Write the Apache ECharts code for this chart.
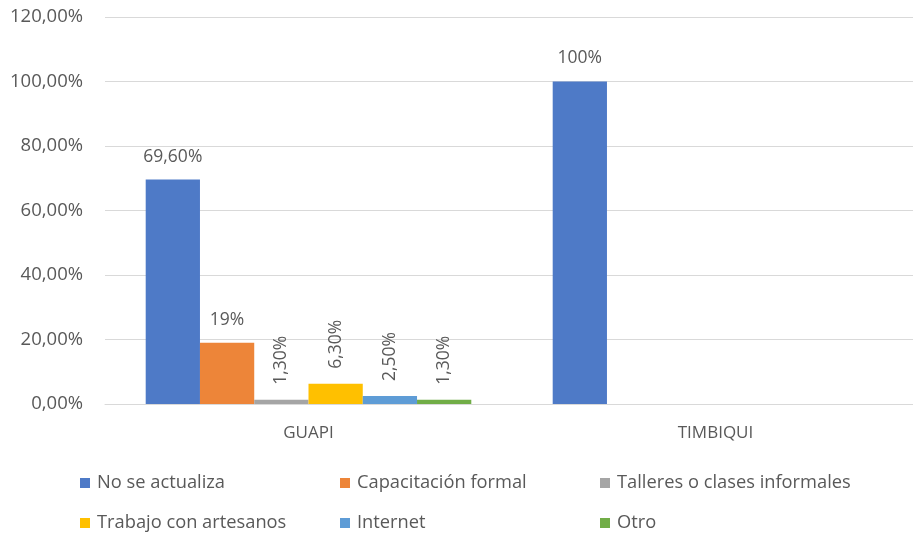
<!DOCTYPE html>
<html>
<head>
<meta charset="utf-8">
<script src="https://cdn.jsdelivr.net/npm/echarts@6/dist/echarts.min.js"></script>
<style>html,body{margin:0;padding:0;background:#fff;overflow:hidden;width:913px;height:534px}#c{width:930px;height:534px}</style>
</head>
<body>
<div id="c"></div>
<script>
const categories = ['GUAPI', 'TIMBIQUI'];
const seriesNames = ['No se actualiza', 'Capacitación formal', 'Talleres o clases informales', 'Trabajo con artesanos', 'Internet', 'Otro'];
const noSeActualiza = [69.6, 100];
const capacitacionFormal = [19, null];
const talleres = [1.3, null];
const trabajoArtesanos = [6.3, null];
const internet = [2.5, null];
const otro = [1.3, null];
const labelsNoSeActualiza = ['69,60%', '100%'];
const labelsCapacitacion = ['19%', ''];
const labelsTalleres = ['1,30%', ''];
const labelsTrabajo = ['6,30%', ''];
const labelsInternet = ['2,50%', ''];
const labelsOtro = ['1,30%', ''];
const yTicks = [0, 20, 40, 60, 80, 100, 120];

const colors = ['#4E7AC7', '#ED8539', '#A5A5A5', '#FFC000', '#5E9CD6', '#71AD47'];
const values = [noSeActualiza, capacitacionFormal, talleres, trabajoArtesanos, internet, otro];
const labels = [labelsNoSeActualiza, labelsCapacitacion, labelsTalleres, labelsTrabajo, labelsInternet, labelsOtro];
const rotated = [false, false, true, true, true, true];
const FONT = '"Open Sans", sans-serif';
const TXT = '#595959';

const series = values.map((vals, i) => ({
  name: seriesNames[i],
  type: 'bar',
  data: vals,
  barGap: '0%',
  barCategoryGap: '20%',
  itemStyle: { color: colors[i] },
  label: rotated[i] ? {
    show: true, position: 'top', rotate: 90, align: 'left', verticalAlign: 'middle', distance: 15,
    fontFamily: FONT, fontSize: 17.5, color: TXT,
    formatter: p => labels[i][p.dataIndex]
  } : {
    show: true, position: 'top', distance: 14,
    fontFamily: FONT, fontSize: 17.5, color: TXT,
    formatter: p => labels[i][p.dataIndex]
  }
}));

const legendPos = [[75, 469], [335, 469], [595, 469], [75, 509], [335, 509], [595, 509]];
const legends = seriesNames.map((n, i) => ({
  data: [n],
  left: legendPos[i][0], top: legendPos[i][1],
  orient: 'horizontal',
  icon: 'rect', itemWidth: 10, itemHeight: 10, itemGap: 4,
  textStyle: { fontFamily: FONT, fontSize: 18.3, color: TXT, padding: [0, 0, 0, 2] },
  selectedMode: false
}));

const chart = echarts.init(document.getElementById('c'), null, { renderer: 'canvas' });
chart.setOption({
  animation: false,
  backgroundColor: '#fff',
  grid: { left: 105, width: 814, top: 17, bottom: 130, containLabel: false },
  legend: legends,
  xAxis: {
    type: 'category', data: categories,
    axisLine: { show: true, lineStyle: { color: '#D9D9D9', width: 1 } },
    axisTick: { show: false },
    axisLabel: { fontFamily: FONT, fontSize: 17, color: TXT, margin: 21 }
  },
  yAxis: {
    type: 'value', min: yTicks[0], max: yTicks[yTicks.length - 1], interval: 20,
    axisLine: { show: false }, axisTick: { show: false },
    splitLine: { lineStyle: { color: '#D9D9D9', width: 1 } },
    axisLabel: { fontFamily: FONT, fontSize: 18.5, color: TXT, margin: 22,
      formatter: v => v.toFixed(2).replace('.', ',') + '%' }
  },
  series: series
});
</script>
</body>
</html>
